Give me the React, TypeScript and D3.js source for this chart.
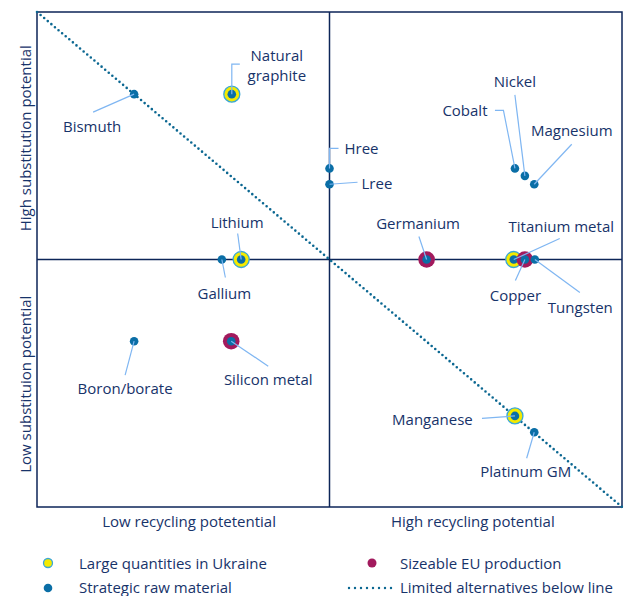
import React from "react";
import * as d3 from "d3";

// ---- data ----
const materials = [
  "Bismuth", "Natural graphite", "Lithium", "Gallium", "Boron/borate", "Silicon metal",
  "Hree", "Lree", "Cobalt", "Nickel", "Magnesium", "Germanium",
  "Titanium metal", "Copper", "Tungsten", "Manganese", "Platinum GM",
];
const recycling = [1.66, 3.33, 3.49, 3.16, 1.66, 3.32, 5.0, 5.0, 8.17, 8.34, 8.5, 6.66, 8.15, 8.34, 8.51, 8.17, 8.5];
const substitution = [8.34, 8.34, 5.0, 5.0, 3.35, 3.35, 6.84, 6.52, 6.84, 6.69, 6.52, 5.0, 5.0, 5.0, 5.0, 1.84, 1.51];
// U = large quantities in Ukraine, E = sizeable EU production, S = strategic only
const category = ["S", "U", "U", "S", "S", "E", "S", "S", "S", "S", "S", "E", "U", "E", "S", "U", "S"];

const quadrantX = ["Low recycling potetential", "High recycling potential"];
const quadrantY = ["Low substituion potential", "High substitution potential"];
const legendItems = [
  { key: "U", text: "Large quantities in Ukraine" },
  { key: "E", text: "Sizeable EU production" },
  { key: "S", text: "Strategic raw material" },
  { key: "L", text: "Limited alternatives below line" },
];

// ---- layout of annotations (pixel offsets relative to the point) ----
type Ann = { lines: string[]; dx: number; dy: number; anchor?: string; leader: [number, number][] };
const annotations: Record<string, Ann> = {
  "Bismuth": { lines: ["Bismuth"], dx: -42, dy: 32, leader: [[-41, 18]] },
  "Natural graphite": { lines: ["Natural", "graphite"], dx: 45, dy: -29.5, leader: [[8, -30], [0, -30]] },
  "Lithium": { lines: ["Lithium"], dx: -4, dy: -38, leader: [[-3.5, -26]] },
  "Gallium": { lines: ["Gallium"], dx: 2.5, dy: 33, leader: [[3.5, 18]] },
  "Boron/borate": { lines: ["Boron/borate"], dx: -9, dy: 47, leader: [[-9, 34]] },
  "Silicon metal": { lines: ["Silicon metal"], dx: 37, dy: 38, leader: [[37, 25]] },
  "Hree": { lines: ["Hree"], dx: 15, dy: -20, anchor: "start", leader: [[9, -20], [0, -20]] },
  "Lree": { lines: ["Lree"], dx: 32, dy: -1.5, anchor: "start", leader: [[28, -2]] },
  "Cobalt": { lines: ["Cobalt"], dx: -50, dy: -58, leader: [[-20, -58], [-11.5, -58]] },
  "Nickel": { lines: ["Nickel"], dx: -10, dy: -95, leader: [[-10, -81]] },
  "Magnesium": { lines: ["Magnesium"], dx: 37.5, dy: -54, leader: [[37.5, -40]] },
  "Germanium": { lines: ["Germanium"], dx: -8.5, dy: -36.5, leader: [[-7.7, -23]] },
  "Titanium metal": { lines: ["Titanium metal"], dx: 47.5, dy: -34, leader: [[46, -21]] },
  "Copper": { lines: ["Copper"], dx: -9.5, dy: 35, leader: [[-9.5, 21]] },
  "Tungsten": { lines: ["Tungsten"], dx: 45.5, dy: 47, leader: [[45, 33]] },
  "Manganese": { lines: ["Manganese"], dx: -82.5, dy: 3.5, leader: [[-33, 2.5]] },
  "Platinum GM": { lines: ["Platinum GM"], dx: -8.5, dy: 38.5, leader: [[-7.6, 26]] },
};

const W = 632, H = 596;
const left = 37, right = 622, top = 12, bottom = 507;

const NAVY = "#0d2558";
const TEXT = "#17336a";
const BLUE = "#0a6ea6";
const YELLOW = "#f4ea00";
const RING = "#3aa7d6";
const MAGENTA = "#a21a5d";
const LEADER = "#7fb6f2";
const DOT = "#0b6791";
const FONT = "'Open Sans', sans-serif";
const FS = 15;

export default function App() {
  const x = d3.scaleLinear().domain([0, 10]).range([left, right]);
  const y = d3.scaleLinear().domain([0, 10]).range([bottom, top]);
  const line = d3.line<[number, number]>();

  const pts = materials.map((m, i) => ({ name: m, cx: x(recycling[i]), cy: y(substitution[i]), cat: category[i] }));

  const marker = (cat: string, cx: number, cy: number, key: string, small = false) => {
    const rOuter = small ? 4.5 : 8;
    if (cat === "U") {
      return (
        <g key={key}>
          <circle cx={cx} cy={cy} r={rOuter} fill={YELLOW} stroke={RING} strokeWidth={1.3} />
          {!small && <circle cx={cx} cy={cy} r={4.3} fill={BLUE} />}
        </g>
      );
    }
    if (cat === "E") {
      return (
        <g key={key}>
          <circle cx={cx} cy={cy} r={small ? 4.5 : 8.3} fill={MAGENTA} />
          {!small && <circle cx={cx} cy={cy} r={4.3} fill={BLUE} />}
        </g>
      );
    }
    return <circle key={key} cx={cx} cy={cy} r={4.3} fill={BLUE} />;
  };

  return (
    <svg width={W} height={H} style={{ position: "absolute", left: 0, top: 0 }} fontFamily={FONT}>
      <rect x={0} y={0} width={W} height={H} fill="#fff" />
      {/* frame */}
      <rect x={x(0)} y={y(10)} width={x(10) - x(0)} height={y(0) - y(10)} fill="none" stroke={NAVY} strokeWidth={1.5} />
      <line x1={x(5)} x2={x(5)} y1={y(0)} y2={y(10)} stroke={NAVY} strokeWidth={1.5} />
      <line x1={x(0)} x2={x(10)} y1={y(5)} y2={y(5)} stroke={NAVY} strokeWidth={1.5} />
      {/* diagonal */}
      <path d={line([[x(0), y(10)], [x(10), y(0)]]) || ""} stroke={DOT} strokeWidth={2.6} strokeDasharray="0 4.7" strokeLinecap="round" fill="none" />

      {/* markers */}
      {pts.map((p, i) => marker(p.cat, p.cx, p.cy, "m" + i))}

      {/* leaders */}
      {pts.map((p, i) => {
        const a = annotations[p.name];
        const path: [number, number][] = a.leader.map(([dx, dy]) => [p.cx + dx, p.cy + dy]);
        path.push([p.cx, p.cy]);
        return <path key={"l" + i} d={line(path) || ""} stroke={LEADER} strokeWidth={1.2} fill="none" />;
      })}

      {/* labels */}
      {pts.map((p, i) => {
        const a = annotations[p.name];
        const n = a.lines.length;
        return (
          <text key={"t" + i} x={p.cx + a.dx} y={p.cy + a.dy} textAnchor={a.anchor || "middle"} fill={TEXT} fontSize={FS} dominantBaseline="central">
            {a.lines.map((t, j) => (
              <tspan key={j} x={p.cx + a.dx} dy={j === 0 ? -((n - 1) * 20) / 2 : 20}>{t}</tspan>
            ))}
          </text>
        );
      })}

      {/* quadrant axis labels */}
      {quadrantX.map((t, i) => (
        <text key={"qx" + i} x={x(i === 0 ? 2.6 : 7.45)} y={521} textAnchor="middle" dominantBaseline="central" fill={TEXT} fontSize={FS}>{t}</text>
      ))}
      {quadrantY.map((t, i) => {
        const cy = y(i === 0 ? 2.48 : 7.45);
        return (
          <text key={"qy" + i} transform={`translate(25,${cy}) rotate(-90)`} textAnchor="middle" dominantBaseline="central" fill={TEXT} fontSize={FS}>{t}</text>
        );
      })}

      {/* legend */}
      {legendItems.map((it, i) => {
        const col = i % 2 === 0 ? 0 : 1;
        const row = Math.floor(i / 2);
        const lx = col === 0 ? 48 : 372;
        const ly = row === 0 ? 563 : 587;
        const tx = col === 0 ? 79 : 400;
        return (
          <g key={"lg" + i}>
            {it.key === "L" ? (
              <line x1={349} x2={392} y1={ly + 1} y2={ly + 1} stroke={DOT} strokeWidth={2.4} strokeDasharray="0 6" strokeLinecap="round" />
            ) : (
              marker(it.key, lx, ly + (row === 1 ? 1 : 0), "lm" + i, true)
            )}
            <text x={tx} y={ly} dominantBaseline="central" fill={TEXT} fontSize={FS}>{it.text}</text>
          </g>
        );
      })}
    </svg>
  );
}
